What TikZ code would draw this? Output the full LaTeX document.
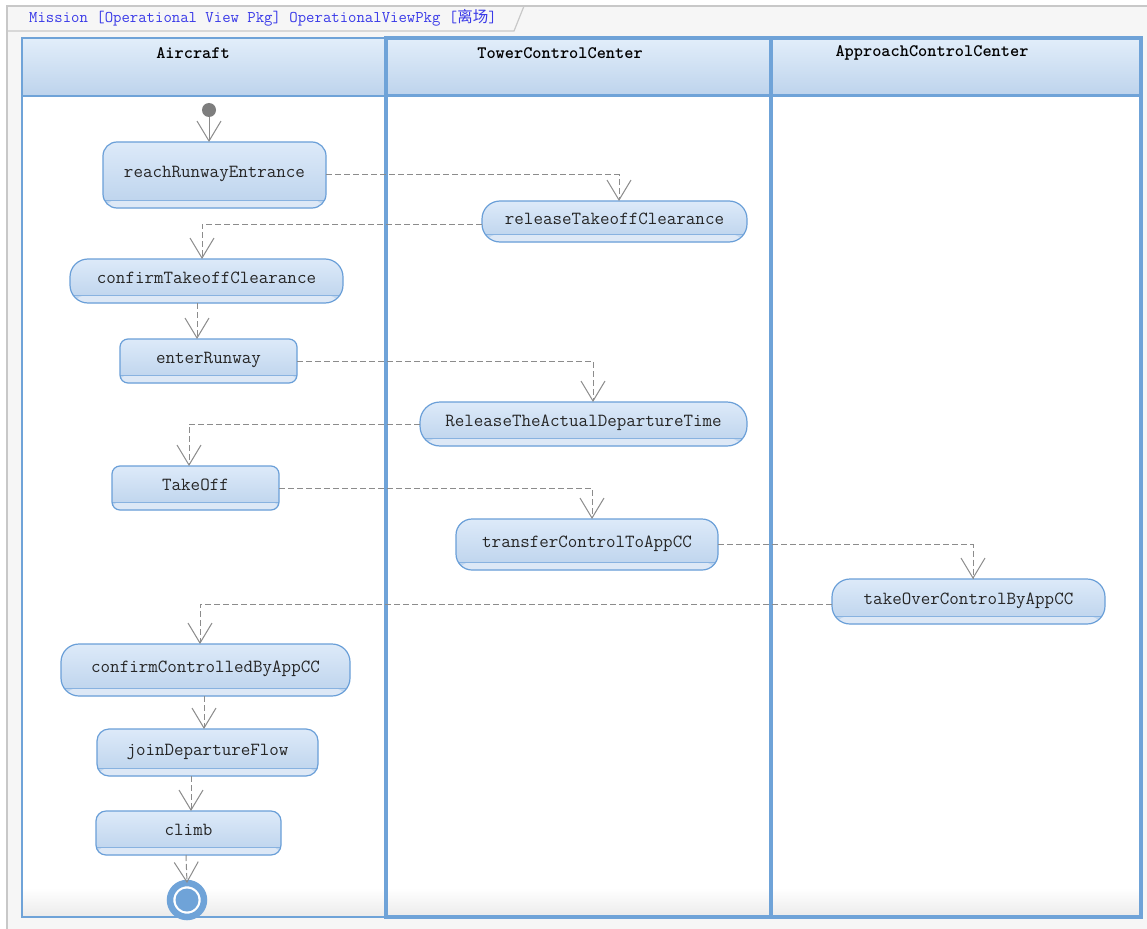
\documentclass[tikz,border=0pt]{standalone}
\usepackage{fontspec}
\newfontfamily\cjkfont{Noto Sans CJK SC}
\usetikzlibrary{arrows.meta,calc}

\definecolor{framegray}{HTML}{C8C8C8}
\definecolor{framebg}{HTML}{F6F6F6}
\definecolor{laneblue}{HTML}{6FA3D8}
\definecolor{hdrtop}{HTML}{E2EEFA}
\definecolor{hdrbot}{HTML}{BDD3EC}
\definecolor{acttop}{HTML}{DDEAF9}
\definecolor{actbot}{HTML}{BBD2EC}
\definecolor{actborder}{HTML}{6A9FD8}
\definecolor{stripfill}{HTML}{DDE8F6}
\definecolor{flowgray}{HTML}{8C8C8C}
\definecolor{titleblue}{HTML}{3A3AE8}

\tikzset{
  act/.style={draw=actborder, line width=1.2pt, rounded corners=14pt,
    top color=acttop, bottom color=actbot, inner sep=0pt, outer sep=0pt,
    text height=14pt, text depth=9pt, text=black!85,
    font=\ttfamily\fontsize{18.5}{21}\selectfont,
    path picture={
      \fill[stripfill] ([yshift=8pt]path picture bounding box.south west)
        rectangle (path picture bounding box.south east);
      \draw[actborder!80, line width=0.9pt]
        ([yshift=8pt]path picture bounding box.south west)
        -- ([yshift=8pt]path picture bounding box.south east);}},
  hdr/.style={font=\ttfamily\bfseries\fontsize{17.5}{20}\selectfont, inner sep=0pt},
  flow/.style={draw=flowgray, line width=1pt, dash pattern=on 6pt off 3pt,
    -{Straight Barb[length=20pt,width=24pt]}},
  start/.style={draw=flowgray, line width=1pt, -{Straight Barb[length=20pt,width=24pt]}}
}

\begin{document}
\begin{tikzpicture}[x=1pt,y=-1pt]
\useasboundingbox (0,0) rectangle (1147,928);
\clip (0,0) rectangle (1147,928);

% frame and name tab
\fill[white] (0,0) rectangle (1147,928);
\draw[framegray, line width=1.5pt, fill=framebg] (7,6) rectangle (1170,950);
\draw[framegray, line width=1.2pt] (7,31) -- (514,31) -- (524,6);
\node[anchor=west, inner sep=0pt, text=titleblue,
      font=\ttfamily\fontsize{16.3}{19}\selectfont] (title) at (29,18)
  {Mission [Operational View Pkg] OperationalViewPkg [{\cjkfont\fontsize{15.5}{19}\selectfont 离场}]};

% swimlane bodies and headers
\fill[white] (22,96) rectangle (1141,917);
\shade[top color=white, bottom color=black!8] (22,888) rectangle (1141,917);
\shade[top color=hdrtop, bottom color=hdrbot] (22,38) rectangle (1141,96);

% lane borders
\draw[laneblue, line width=1.8pt] (22,38) rectangle (386,917);
\draw[laneblue, line width=1.8pt] (22,96) -- (386,96);
\draw[laneblue, line width=3.5pt] (386,38) rectangle (771,917);
\draw[laneblue, line width=3.5pt] (771,38) rectangle (1141,917);
\draw[laneblue, line width=3pt] (386,96) -- (1141,96);

\node[hdr] (laneA) at (193,53) {Aircraft};
\node[hdr] (laneT) at (560,53) {TowerControlCenter};
\node[hdr] (laneP) at (932,53) {ApproachControlCenter};

% actions
\node[act, minimum width=223pt, minimum height=66pt] (reach) at (214.5,175) {reachRunwayEntrance};
\node[act, minimum width=265pt, minimum height=41pt, rounded corners=18pt] (relTO) at (614.5,221.5) {releaseTakeoffClearance};
\node[act, minimum width=273pt, minimum height=44pt, rounded corners=18pt] (confTO) at (206.5,281) {confirmTakeoffClearance};
\node[act, minimum width=177pt, minimum height=44pt, rounded corners=8pt] (enter) at (208.5,361) {enterRunway};
\node[act, minimum width=327pt, minimum height=44pt, rounded corners=20pt] (relADT) at (583.5,424) {ReleaseTheActualDepartureTime};
\node[act, minimum width=167pt, minimum height=44pt, rounded corners=8pt] (takeoff) at (195.5,488) {TakeOff};
\node[act, minimum width=262pt, minimum height=51pt, rounded corners=16pt] (transfer) at (587,544.5) {transferControlToAppCC};
\node[act, minimum width=273pt, minimum height=45pt, rounded corners=18pt] (takeover) at (968.5,601.5) {takeOverControlByAppCC};
\node[act, minimum width=289pt, minimum height=52pt, rounded corners=18pt] (confCC) at (205.5,670) {confirmControlledByAppCC};
\node[act, minimum width=221pt, minimum height=47pt, rounded corners=12pt] (join) at (207.5,752.5) {joinDepartureFlow};
\node[act, minimum width=185pt, minimum height=44pt, rounded corners=10pt] (climb) at (188.5,833) {climb};

% initial and final nodes
\node[circle, fill=flowgray!90!black, minimum size=14pt, inner sep=0pt, outer sep=0pt] (init) at (209,110) {};
\node[circle, draw=laneblue, line width=6.5pt, fill=white, minimum size=34pt, inner sep=0pt, outer sep=0pt] (final) at (187,900) {};
\node[circle, fill=laneblue, minimum size=23pt, inner sep=0pt] (finaldot) at (final) {};

% control flows
\draw[start] (init.south) -- (init.south |- reach.north);
\draw[flow] (reach.east) -| ([xshift=4.5pt]relTO.north);
\draw[flow] ([yshift=-2.5pt]relTO.west) -| ([xshift=-4.5pt]confTO.north);
\draw[flow] ([xshift=-11.5pt]enter.north |- confTO.south) -- ([xshift=-11.5pt]enter.north);
\draw[flow] (enter.east) -| ([xshift=9.5pt]relADT.north);
\draw[flow] (relADT.west) -| ([xshift=-6.5pt]takeoff.north);
\draw[flow] (takeoff.east) -| ([xshift=5pt]transfer.north);
\draw[flow] (transfer.east) -| ([xshift=4.5pt]takeover.north);
\draw[flow] ([yshift=-2.5pt]takeover.west) -| ([xshift=-5.5pt]confCC.north);
\draw[flow] ([xshift=-3.5pt]join.north |- confCC.south) -- ([xshift=-3.5pt]join.north);
\draw[flow] ([xshift=2.5pt]climb.north |- join.south) -- ([xshift=2.5pt]climb.north);
\draw[flow] ([xshift=-2.5pt]climb.south) -- (final.north);
\end{tikzpicture}
\end{document}
